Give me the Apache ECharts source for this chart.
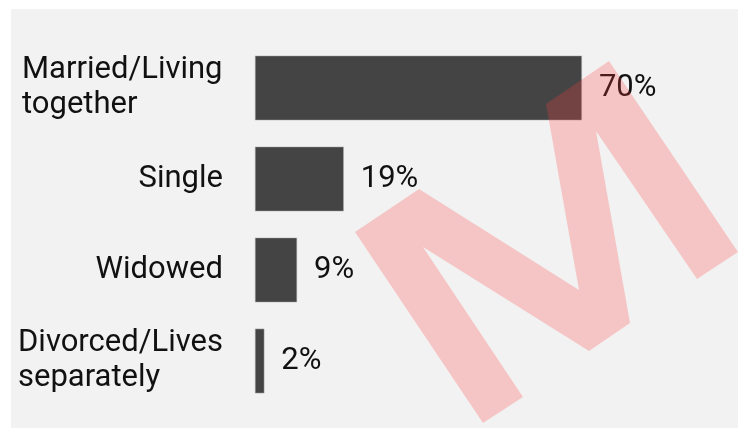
<!DOCTYPE html>
<html>
<head>
<meta charset="utf-8">
<script src="https://cdn.jsdelivr.net/npm/echarts@6/dist/echarts.min.js"></script>
<style>
  body { margin: 0; background: #fff; }
  #chart { width: 740px; height: 430px; }
</style>
</head>
<body>
<div id="chart"></div>
<script>
const categories = ['Married/Living\ntogether', 'Single', 'Widowed', 'Divorced/Lives\nseparately']
const values = [70, 19, 9, 2]

// watermark outline (decoration, not data)
const watermark = [
  [483, 423], [355, 232], [419, 189], [579, 290], [546, 104], [609, 61],
  [738, 252], [697, 279], [596, 131], [630, 323], [589, 351], [423, 247], [523, 397]
]

const labelFont = '31px Roboto'

// multi-line labels: lines left aligned inside a right aligned block
const ctx = document.createElement('canvas').getContext('2d')
ctx.font = labelFont
let rich = {}
categories.forEach((c, i) => {
  let lines = c.split('\n')
  let w = Math.max(...lines.map(l => ctx.measureText(l).width))
  rich['r' + i] = {width: Math.ceil(w), align: 'left', fontSize: 31, lineHeight: 35, color: '#111', fontFamily: 'Roboto'}
})

const myChart = echarts.init(document.getElementById('chart'))
const option = {
  backgroundColor: '#ffffff',
  animation: false,
  textStyle: {fontFamily: 'Roboto'},
  graphic: [
    {
      type: 'rect',
      z: -10,
      shape: {x: 11, y: 9, width: 727, height: 419},
      style: {fill: '#f2f2f2'}
    },
    {
      type: 'polygon',
      z: 100,
      silent: true,
      shape: {points: watermark},
      style: {fill: 'rgba(255, 64, 64, 0.25)'}
    }
  ],
  grid: {
    left: 255,
    right: 18,
    top: 42.5,
    bottom: 23.5
  },
  xAxis: {
    type: 'value',
    min: 0,
    max: 100,
    show: false
  },
  yAxis: {
    type: 'category',
    inverse: true,
    data: categories,
    axisLine: {show: false},
    axisTick: {show: false},
    axisLabel: {
      margin: 32,
      fontSize: 31,
      lineHeight: 35,
      color: '#111',
      fontFamily: 'Roboto',
      rich: rich,
      formatter: function (v, i) {
        let lines = v.split('\n')
        if (lines.length < 2) {
          return v
        }
        return lines.map(l => '{r' + i + '|' + l + '}').join('\n')
      }
    }
  },
  series: [
    {
      type: 'bar',
      data: values,
      barCategoryGap: '29%',
      itemStyle: {
        color: '#444444',
        borderColor: '#aaaaaa',
        borderWidth: 0.5
      },
      label: {
        show: true,
        position: 'right',
        distance: 17,
        formatter: '{c}%',
        fontSize: 31,
        color: '#111',
        fontFamily: 'Roboto'
      }
    }
  ]
}
myChart.setOption(option)
</script>
</body>
</html>
